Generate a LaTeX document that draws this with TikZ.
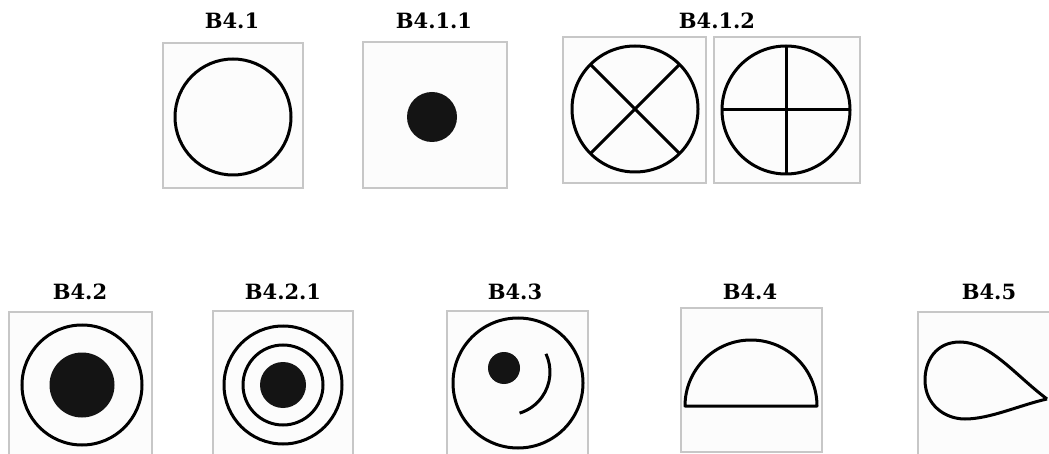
\documentclass[tikz,border=0pt]{standalone}
\usepackage{fontspec}
\setmainfont{DejaVu Serif}
\begin{document}
\begin{tikzpicture}[x=1pt,y=-1pt,
  frame/.style={draw=black!22,fill=black!1,line width=1.3pt},
  sym/.style={draw=black,line width=3pt},
  dot/.style={fill=black!92},
  ttl/.style={anchor=base,font=\fontsize{21}{23}\selectfont\bfseries,inner sep=0pt}]
\useasboundingbox (0,0) rectangle (1049,454);
% top row frames
\draw[frame] (163,43) rectangle (303,188);
\draw[frame] (363,42) rectangle (507,188);
\draw[frame] (563,37) rectangle (706,183);
\draw[frame] (714,37) rectangle (860,183);
% bottom row frames
\draw[frame] (9,312) rectangle (152,460);
\draw[frame] (213,311) rectangle (353,460);
\draw[frame] (447,311) rectangle (588,460);
\draw[frame] (681,308) rectangle (822,452);
\draw[frame] (918,312) rectangle (1060,460);
% titles
\node[ttl] (t1) at (232,29) {B4.1};
\node[ttl] (t2) at (434,29) {B4.1.1};
\node[ttl] (t3) at (717,29) {B4.1.2};
\node[ttl] (t4) at (80,299) {B4.2};
\node[ttl] (t5) at (283,299) {B4.2.1};
\node[ttl] (t6) at (515,299) {B4.3};
\node[ttl] (t7) at (750,299) {B4.4};
\node[ttl] (t8) at (989,299) {B4.5};
% B4.1
\draw[sym] (233,117) circle (58);
% B4.1.1
\fill[dot] (432,117) circle (25);
% B4.1.2 X
\draw[sym] (635,109) circle (63);
\draw[sym] (635,109) ++(135:63) -- ++(-45:126);
\draw[sym] (635,109) ++(45:63) -- ++(-135:126);
% B4.1.2 +
\draw[sym] (786,110) circle (64);
\draw[sym] (722,110) -- (850,110);
\draw[sym] (786,46) -- (786,174);
% B4.2
\draw[sym] (82,385) circle (60);
\fill[dot] (82,385) circle (32.5);
% B4.2.1
\draw[sym] (283,385) circle (59);
\draw[sym] (283,385) circle (40);
\fill[dot] (283,385) circle (23);
% B4.3
\draw[sym] (518,383) circle (65);
\fill[dot] (504,368) circle (16);
\draw[sym] (507,372) ++(-25:43) arc[start angle=-25,end angle=73,radius=43];
% B4.4
\draw[sym,line join=round] (685,406) -- (817,406) arc[start angle=0,end angle=-180,radius=66] -- cycle;
% B4.5
\draw[sym] (1047,399) .. controls (1015,375) and (990,342) .. (960,342)
  .. controls (935,342) and (925,362) .. (925,380)
  .. controls (925,405) and (945,419) .. (965,419)
  .. controls (990,419) and (1020,405) .. (1047,399);
\end{tikzpicture}
\end{document}
